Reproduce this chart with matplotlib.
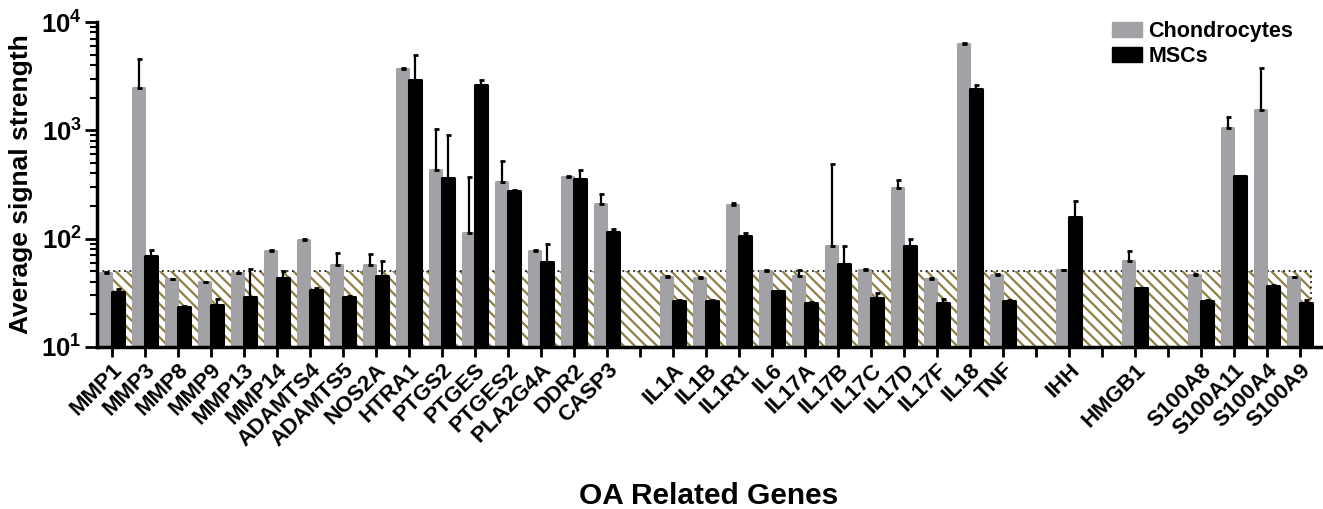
import numpy as np
import matplotlib
matplotlib.use("Agg")
import matplotlib.pyplot as plt
from matplotlib.patches import Rectangle, Patch

plt.rcParams["font.family"] = ["Liberation Sans", "DejaVu Sans"]
plt.rcParams["font.weight"] = "bold"
plt.rcParams["mathtext.fontset"] = "custom"
plt.rcParams["mathtext.rm"] = "Liberation Sans:bold"
plt.rcParams["mathtext.bf"] = "Liberation Sans:bold"
plt.rcParams["hatch.linewidth"] = 1.6

nan = np.nan

# gene slots ("" = empty spacer slot)
genes = ["MMP1", "MMP3", "MMP8", "MMP9", "MMP13", "MMP14", "ADAMTS4", "ADAMTS5",
         "NOS2A", "HTRA1", "PTGS2", "PTGES", "PTGES2", "PLA2G4A", "DDR2", "CASP3", "",
         "IL1A", "IL1B", "IL1R1", "IL6", "IL17A", "IL17B", "IL17C", "IL17D", "IL17F",
         "IL18", "TNF", "", "IHH", "", "HMGB1", "", "S100A8", "S100A11", "S100A4", "S100A9"]

chondrocytes = [48, 2440, 42, 39.5, 48, 77, 98, 57.5,
                57.5, 3660, 430, 114, 333, 77.5, 371, 209, nan,
                44.3, 43.4, 206, 50, 45.5, 85, 51.7, 291, 42.6,
                6220, 46.5, nan, 51, nan, 61.7, nan, 46.5, 1060, 1540, 44]
chondrocytes_err = [1, 2140, 0.5, 0.5, 0.5, 1.5, 1.5, 17,
                    14, 80, 605, 257, 191, 1, 4, 51, nan,
                    0.5, 0.5, 6, 1.2, 6, 404, 0.5, 54, 0.5,
                    150, 0.8, nan, 0.8, nan, 14.6, nan, 0.8, 258, 2200, 0.5]

mscs = [31.9, 69.7, 23.4, 24.6, 28.7, 43.4, 33.3, 28.9,
        45.5, 2910, 365, 2600, 277, 61.4, 355, 116, nan,
        26.6, 26.6, 105, 32.6, 25.5, 58.4, 28.2, 84.9, 25.5,
        2390, 26.6, nan, 160, nan, 34.8, nan, 26.6, 378, 36.8, 25.5]
mscs_err = [2.6, 9.3, 0.4, 3.1, 23.8, 7.2, 1.5, 0.5,
            16.2, 2010, 540, 310, 3, 27.9, 75, 8, nan,
            0.3, 0.3, 9, 0.3, 0.3, 26.5, 3.2, 15, 2.4,
            240, 0.3, nan, 62, nan, 0.5, nan, 0.3, 4, 0.5, 1.4]

threshold = 50

gray = "#A2A2A6"
hatch_col = "#8E7F45"

x = np.arange(len(genes))
w = 0.35

fig = plt.figure(figsize=(13.23, 5.09), dpi=100)
ax = fig.add_axes([97 / 1323, 1 - 347 / 509, (1321 - 97) / 1323, (347 - 22) / 509])

ax.set_yscale("log")
ax.set_ylim(10, 1e4)
ax.set_xlim(-0.45, 36.64)

# background threshold region
hatch_right = 36.33
ax.add_patch(Rectangle((-0.45, 10), hatch_right + 0.45, threshold - 10,
                       facecolor="white", edgecolor=hatch_col, linewidth=0,
                       hatch="\\\\\\", zorder=0))
ax.plot([-0.45, hatch_right, hatch_right], [threshold, threshold, 10],
        linestyle=(0, (1, 2)), color="#222222", linewidth=1.3, zorder=1,
        clip_on=False)

c = np.array(chondrocytes, dtype=float)
m = np.array(mscs, dtype=float)
ce = np.array(chondrocytes_err, dtype=float)
me = np.array(mscs_err, dtype=float)

# a round-joined edge gives the slightly rounded bar tops
ax.bar(x - 0.19, c, width=w, color=gray, edgecolor=gray, linewidth=2.2,
       joinstyle="round", zorder=2, label="Chondrocytes")
ax.bar(x + 0.19, m, width=w, color="black", edgecolor="black", linewidth=2.2,
       joinstyle="round", zorder=2, label="MSCs")
ax.errorbar(x - 0.19, c, yerr=[np.zeros_like(ce), ce], fmt="none",
            ecolor="black", elinewidth=1.6, capsize=1.8, capthick=2, zorder=3)
ax.errorbar(x + 0.19, m, yerr=[np.zeros_like(me), me], fmt="none",
            ecolor="black", elinewidth=1.6, capsize=1.8, capthick=2, zorder=3)

ax.set_xticks(x)
ax.set_xticklabels(genes, rotation=45, ha="right", rotation_mode="anchor",
                   fontsize=16, fontweight="bold")
ax.set_yticks([10, 100, 1000, 10000])
ax.set_yticklabels([r"$\mathbf{10^{1}}$", r"$\mathbf{10^{2}}$",
                    r"$\mathbf{10^{3}}$", r"$\mathbf{10^{4}}$"], fontsize=18.5)

for s in ["top", "right"]:
    ax.spines[s].set_visible(False)
for s in ["left", "bottom"]:
    ax.spines[s].set_linewidth(2.5)
ax.tick_params(axis="x", direction="out", length=7, width=2, pad=2)
ax.tick_params(axis="y", which="major", direction="out", length=9, width=2, pad=2)
ax.tick_params(axis="y", which="minor", direction="out", length=5, width=1.5)

fig.text(21 / 1323, 1 - 184 / 509, "Average signal strength", fontsize=19,
         fontweight="bold", rotation=90, ha="center", va="center")
fig.text(709 / 1323, 1 - 496 / 509, "OA Related Genes", fontsize=21.5,
         fontweight="bold", ha="center", va="center")

handles = [Patch(facecolor=gray, edgecolor=gray), Patch(facecolor="black", edgecolor="black")]
fig.legend(handles, ["Chondrocytes", "MSCs"], loc="upper left",
           bbox_to_anchor=(1112 / 1323, 1 - 21 / 509), frameon=False,
           prop={"size": 15.5, "weight": "bold"}, borderpad=0,
           handlelength=1.4, handleheight=0.7, handletextpad=0.28,
           labelspacing=0.2, borderaxespad=0)

fig.savefig("out.png", dpi=100)
